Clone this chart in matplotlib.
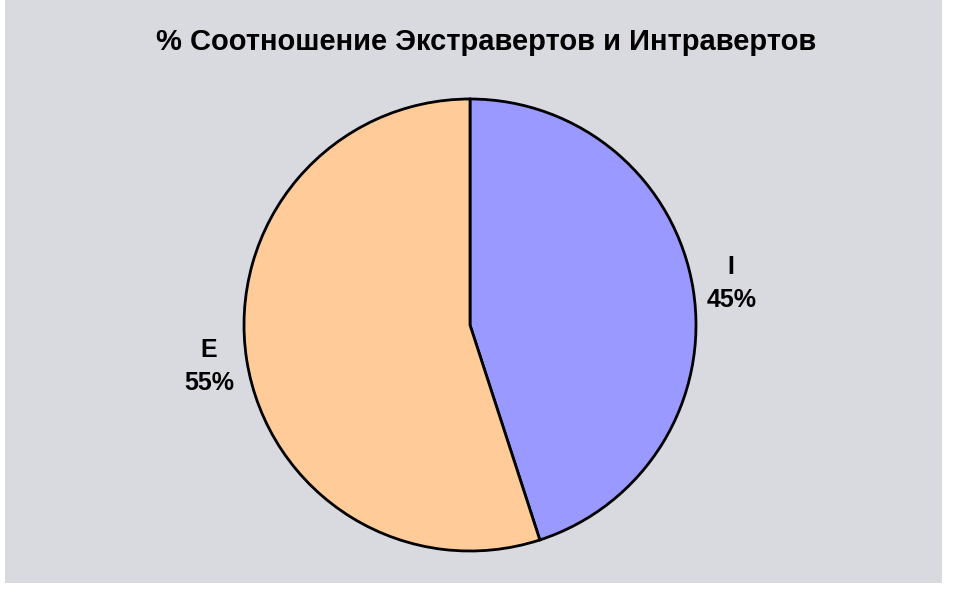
import matplotlib.pyplot as plt

plt.rcParams['font.family'] = ['Liberation Sans', 'DejaVu Sans']

# данные
labels = ['I', 'E']
values = [45, 55]
colors = ['#9999FF', '#FFCC99']
title = '% Соотношение Экстравертов и Интравертов'

fig = plt.figure(figsize=(9.68, 6.0), dpi=100)
fig.patch.set_facecolor('white')

# фон "мрамор" - упрощённо сплошной заливкой
bg = fig.add_axes([5 / 968, 17 / 600, 937 / 968, 583 / 600], zorder=0)
bg.set_facecolor('#D9D9E0')
bg.set_xticks([])
bg.set_yticks([])
for s in bg.spines.values():
    s.set_visible(False)

ax = fig.add_axes([(470 - 226) / 968, (600 - 325 - 226) / 600, 452 / 968, 452 / 600],
                  zorder=1)
ax.set_facecolor('none')

ax.pie(values, colors=colors, startangle=90, counterclock=False,
       labels=[f'{l}\n{v}%' for l, v in zip(labels, values)],
       labeldistance=1.17,
       wedgeprops=dict(edgecolor='black', linewidth=2),
       textprops=dict(fontsize=18, fontweight='bold', ha='center', va='center',
                      linespacing=1.5))
ax.set_xlim(-1, 1)
ax.set_ylim(-1, 1)
ax.set_aspect('equal')
ax.axis('off')

fig.text(486 / 968, 1 - 42 / 600, title, ha='center', va='center',
         fontsize=21, fontweight='bold', zorder=2)

fig.savefig('out.png', dpi=100)
